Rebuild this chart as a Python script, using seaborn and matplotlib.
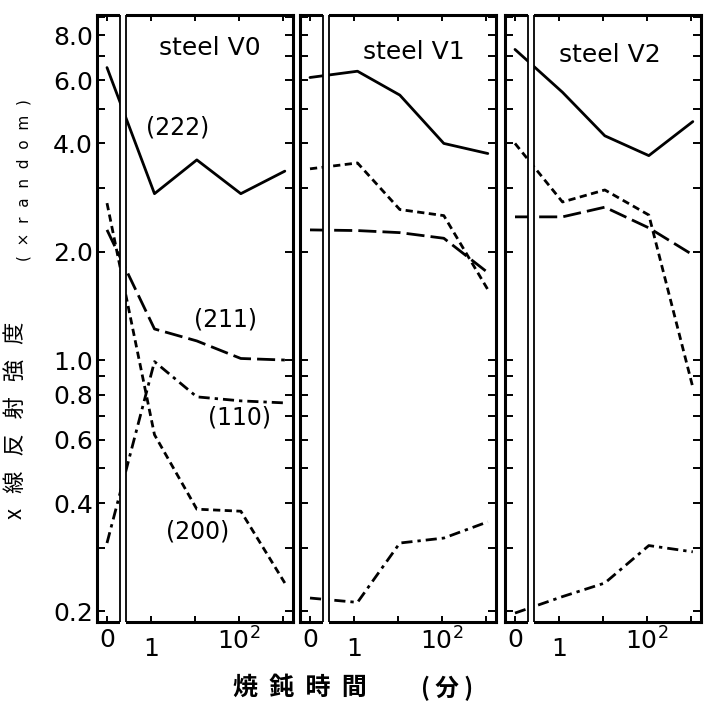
import numpy as np
import pandas as pd
import seaborn as sns
import matplotlib.pyplot as plt
from matplotlib import transforms

# annealing time (min); 0 = as received, drawn left of the axis break
times = [0, 1.2, 11, 110, 1100]
steels = ['steel V0', 'steel V1', 'steel V2']
planes = ['(222)', '(211)', '(110)', '(200)']

# x-ray reflection intensity (x random)
v0_222 = [6.5, 2.9, 3.6, 2.9, 3.35]
v0_211 = [2.3, 1.22, 1.13, 1.01, 1.0]
v0_110 = [0.31, 0.99, 0.79, 0.77, 0.76]
v0_200 = [2.73, 0.62, 0.385, 0.38, 0.24]

v1_222 = [6.1, 6.35, 5.45, 4.0, 3.75]
v1_211 = [2.3, 2.29, 2.26, 2.18, 1.75]
v1_110 = [0.218, 0.212, 0.31, 0.32, 0.355]
v1_200 = [3.4, 3.53, 2.62, 2.52, 1.57]

v2_222 = [7.3, 5.55, 4.2, 3.7, 4.6]
v2_211 = [2.5, 2.5, 2.66, 2.33, 1.96]
v2_110 = [0.198, 0.22, 0.24, 0.305, 0.293]
v2_200 = [4.0, 2.75, 2.97, 2.53, 0.84]

intensity = {
    'steel V0': [v0_222, v0_211, v0_110, v0_200],
    'steel V1': [v1_222, v1_211, v1_110, v1_200],
    'steel V2': [v2_222, v2_211, v2_110, v2_200],
}

rows = []
for steel in steels:
    for plane, vals in zip(planes, intensity[steel]):
        for t, v in zip(times, vals):
            rows.append((steel, plane, t, v))
df = pd.DataFrame(rows, columns=['steel', 'plane', 'time', 'intensity'])

y_ticks = [0.2, 0.3, 0.4, 0.5, 0.6, 0.7, 0.8, 0.9, 1, 2, 3, 4, 5, 6, 7, 8, 9]
y_labels = {0.2: '0.2', 0.4: '0.4', 0.6: '0.6', 0.8: '0.8', 1: '1.0',
            2: '2.0', 4: '4.0', 6: '6.0', 8: '8.0'}
x_ticks = [0, 1, 10, 100, 1000]
x_labels = ['0', '1', '', r'$10^2$', '']

# x axis: linear piece around 0, then log decades (1 decade = 44 px)
U_BREAK = 0.432
X_BREAK = 10 ** (U_BREAK - 1)
X_GAP = 0.295 * X_BREAK / U_BREAK


def fwd(x):
    x = np.asarray(x, dtype=float)
    safe = np.where(x > X_BREAK, x, X_BREAK)
    return np.where(x > X_BREAK, 1 + np.log10(safe), x * U_BREAK / X_BREAK)


def inv(u):
    u = np.asarray(u, dtype=float)
    return np.where(u > U_BREAK, 10 ** (np.minimum(u, 20) - 1), u * X_BREAK / U_BREAK)


sns.set_theme(style='ticks', rc={'axes.edgecolor': 'black', 'text.color': 'black',
                                 'xtick.color': 'black', 'ytick.color': 'black',
                                 'axes.linewidth': 2.2})
plt.rcParams['font.family'] = ['DejaVu Sans', 'Noto Sans CJK JP']

dash_map = {'(222)': '', '(211)': (6.5, 2.2), '(110)': (4, 1.8, 1.2, 1.8), '(200)': (2.6, 1.6)}

W, H = 715, 713
fig = plt.figure(figsize=(W / 100, H / 100), dpi=100)
lefts = [97, 300, 505]

for i, steel in enumerate(steels):
    ax = fig.add_axes([lefts[i] / W, 91 / H, 196 / W, 607 / H])
    ax.set_xscale('function', functions=(fwd, inv))
    ax.set_yscale('log')
    sub = df[df['steel'] == steel]
    sns.lineplot(data=sub, x='time', y='intensity', style='plane', style_order=planes,
                 dashes=dash_map, color='black', lw=2.0, legend=False,
                 estimator=None, sort=False, ax=ax)
    ax.set_xlim(inv(-10 / 44), inv(186 / 44))
    ax.set_ylim(0.187, 9.1)
    ax.set_xlabel('')
    ax.set_ylabel('')

    ax.set_yticks(y_ticks)
    ax.set_yticks([], minor=True)
    ax.set_xticks(x_ticks)
    ax.set_xticks([], minor=True)
    ax.set_xticklabels(x_labels)
    if i == 0:
        ax.set_yticklabels([y_labels.get(t, '') for t in y_ticks])
    ax.tick_params(axis='both', which='both', direction='in', top=True, right=True,
                   labelsize=18, colors='black')
    ax.tick_params(axis='y', length=5.5, width=1.4, pad=3, labelleft=(i == 0))
    ax.tick_params(axis='x', length=4, width=1.4, pad=4)

    # axis break between the "0" strip and the log part
    ax.axvspan(X_GAP, X_BREAK, ymin=-0.008, ymax=1.008, color='white', lw=0,
               zorder=3, clip_on=False)
    ax.axvline(X_GAP, color='black', lw=1.3, zorder=4)
    ax.axvline(X_BREAK, color='black', lw=1.3, zorder=4)

    # "1" sits lower than "0" in the original
    lbl = ax.get_xticklabels()[1]
    lbl.set_transform(lbl.get_transform() +
                      transforms.ScaledTranslation(0, -7 / 72, fig.dpi_scale_trans))

# panel titles and curve labels (pixel positions)
texts = [
    ('steel V0', 210, 48, 18), ('steel V1', 414, 52, 18), ('steel V2', 610, 55, 18),
    ('(222)', 178, 128, 17), ('(211)', 226, 320, 17),
    ('(110)', 240, 418, 17), ('(200)', 198, 532, 17),
]
for s, px, py, fs in texts:
    fig.text(px / W, 1 - py / H, s, ha='center', va='center', fontsize=fs)

fig.text(15 / W, 1 - 420 / H, 'x   線   反   射   強   度', rotation=90, ha='center',
         va='center', fontsize=16, family='Noto Sans CJK JP')
fig.text(24 / W, 1 - 180 / H, '(  ×  r  a  n  d  o  m  )', rotation=90, ha='center',
         va='center', fontsize=11, family=['DejaVu Sans', 'Noto Sans CJK JP'])
fig.text(300 / W, 1 - 688 / H, '焼  鈍  時  間', ha='center', va='center', fontsize=18,
         fontweight='bold', family='Noto Sans CJK JP')
fig.text(447 / W, 1 - 688 / H, '( 分 )', ha='center', va='center', fontsize=17,
         fontweight='bold', family='Noto Sans CJK JP')

fig.savefig('out.png', dpi=100)
